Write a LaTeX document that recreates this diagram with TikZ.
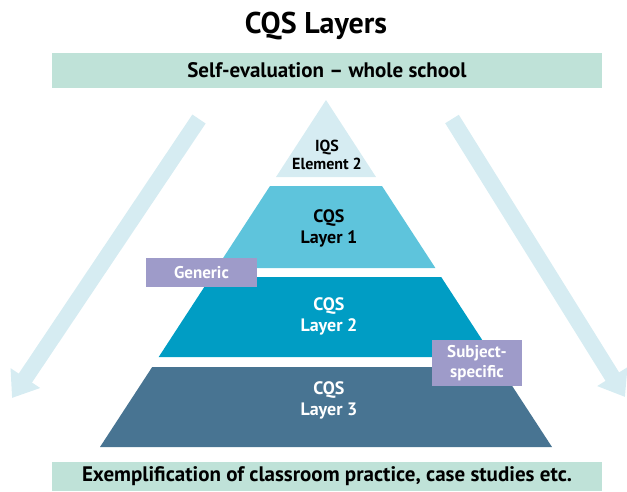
\documentclass[tikz,border=0pt]{standalone}
\usepackage{fontspec}
\setmainfont{PT Sans}
\usetikzlibrary{arrows.meta}
\definecolor{bandgreen}{RGB}{191,226,216}
\definecolor{paleblue}{RGB}{214,236,242}
\definecolor{layerone}{RGB}{94,196,220}
\definecolor{layertwo}{RGB}{0,157,196}
\definecolor{layerthree}{RGB}{72,116,146}
\definecolor{tagpurple}{RGB}{158,155,201}

\begin{document}
\begin{tikzpicture}[x=1pt, y=-1pt,
        band/.style={fill=bandgreen, minimum width=550pt, inner sep=0pt, font=\fontsize{21}{23}\selectfont\bfseries},
        layertext/.style={align=center, font=\fontsize{18}{21}\selectfont\bfseries},
        tag/.style={fill=tagpurple, text=white, align=center, inner sep=0pt, font=\fontsize{17}{20}\selectfont\bfseries},
        flow/.style={paleblue, line width=16pt, -{Triangle[length=24pt, width=34pt]}}
    ]
        \useasboundingbox (0,0) rectangle (627,491);

        % side arrows
        \coordinate (lefttail) at (199,119);
        \coordinate (lefthead) at (12,398);
        \coordinate (righttail) at (452,119);
        \coordinate (righthead) at (625,397);
        \draw[flow] (lefttail) -- (lefthead);
        \draw[flow] (righttail) -- (righthead);

        \node[font=\fontsize{30}{34}\selectfont\bfseries] (title) at (316,26) {CQS Layers};
        \node[band, minimum height=35pt] (selfeval) at (327,70.5) {Self-evaluation -- whole school};
        \node[band, minimum height=29pt] (examples) at (327,476.5) {Exemplification of classroom practice, case studies etc.};

        % pyramid
        \fill[paleblue] (326,100) -- (376,177) -- (276,177) -- cycle;
        \fill[layerone] (270,186) -- (382,186) -- (435.4,268) -- (216.6,268) -- cycle;
        \fill[layertwo] (210.8,277) -- (441.2,277) -- (493.3,357) -- (158.7,357) -- cycle;
        \fill[layerthree] (152.2,367) -- (499.8,367) -- (552,447) -- (100,447) -- cycle;

        \node[align=center, font=\fontsize{16}{18}\selectfont\bfseries] (iqs) at (327,155) {IQS\\Element 2};
        \node[layertext] (cqsone) at (329,228) {CQS\\Layer 1};
        \node[layertext, text=white] (cqstwo) at (329,316) {CQS\\Layer 2};
        \node[layertext, text=white] (cqsthree) at (329,400) {CQS\\Layer 3};

        \node[tag, minimum width=111pt, minimum height=29pt] (generic) at (201.5,272.5) {Generic};
        \node[tag, minimum width=90pt, minimum height=46pt] (subject) at (477,363) {Subject-\\specific};
    \end{tikzpicture}
\end{document}
